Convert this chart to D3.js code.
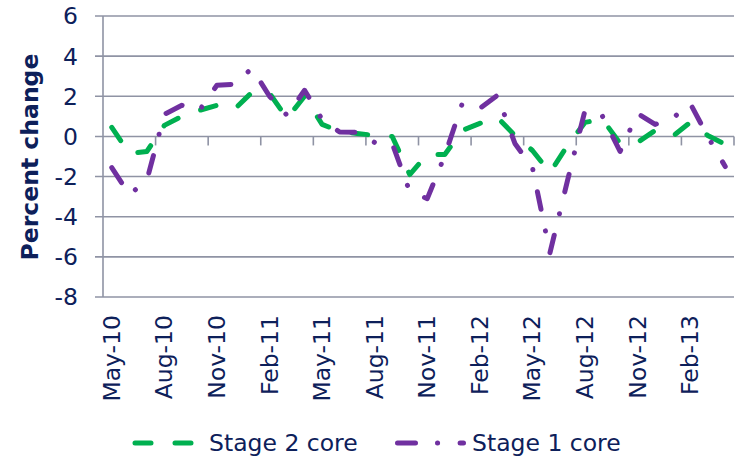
<!DOCTYPE html>
<html>
<head>
<meta charset="utf-8">
<script src="https://cdn.jsdelivr.net/npm/d3@7"></script>
<style>
  body { margin: 0; background: #fff; }
  svg text { font-family: "DejaVu Sans", Verdana, sans-serif; fill: #0d205a; }
</style>
</head>
<body>
<svg width="738" height="456"></svg>
<script>
// monthly categories
var months = ["May-10","Jun-10","Jul-10","Aug-10","Sep-10","Oct-10","Nov-10","Dec-10",
  "Jan-11","Feb-11","Mar-11","Apr-11","May-11","Jun-11","Jul-11","Aug-11","Sep-11","Oct-11",
  "Nov-11","Dec-11","Jan-12","Feb-12","Mar-12","Apr-12","May-12","Jun-12","Jul-12","Aug-12",
  "Sep-12","Oct-12","Nov-12","Dec-12","Jan-13","Feb-13","Mar-13","Apr-13"];

var stage2 = [0.45,-0.85,-0.75,0.55,1.0,1.3,1.55,1.35,2.2,2.15,0.9,2.0,
  0.6,0.25,0.15,0.05,0.0,-1.9,-0.9,-0.9,0.3,0.65,0.95,0.05,
  -0.7,-1.8,-0.45,0.7,0.85,-0.35,-0.3,0.3,0.0,0.7,0.05,-0.4];

var stage1 = [-1.55,-2.9,-2.2,1.1,1.55,1.3,2.55,2.6,3.4,2.0,1.05,2.3,
  0.85,0.22,0.2,-0.3,-0.35,-2.75,-3.1,-0.95,1.65,1.4,2.05,-0.35,
  -1.55,-5.8,-2.2,1.3,1.0,-0.75,1.15,0.6,0.9,1.65,0.0,-1.5];

var yTicks = [-8,-6,-4,-2,0,2,4,6];
var labelMonths = months.filter(function(d, i) { return i % 3 === 0; });

var seriesNames = ["Stage 2 core", "Stage 1 core"];

var svg = d3.select("svg");
var gridColor = "#8f93a4";
var fontSize = "23.5px";

var x = d3.scaleBand().domain(months).range([103, 734]).padding(0);
var y = d3.scaleLinear().domain([-8, 6]).range([297, 16]);

function cx(d) { return x(d) + x.bandwidth() / 2; }

// horizontal gridlines (extend left as tick marks)
svg.append("g")
    .selectAll("line")
    .data(yTicks)
    .enter().append("line")
        .attr("x1", 95)
        .attr("x2", 734)
        .attr("y1", function(d) { return y(d); })
        .attr("y2", function(d) { return y(d); })
        .attr("stroke", gridColor)
        .attr("stroke-width", 1.6);

// value axis line
svg.append("line")
    .attr("x1", 103).attr("x2", 103)
    .attr("y1", y(6)).attr("y2", y(-8))
    .attr("stroke", gridColor)
    .attr("stroke-width", 1.6);

// y labels
svg.append("g")
    .selectAll("text")
    .data(yTicks)
    .enter().append("text")
        .attr("x", 78)
        .attr("y", function(d) { return y(d); })
        .attr("dy", "0.36em")
        .attr("text-anchor", "end")
        .style("font-size", fontSize)
        .text(function(d) { return d; });

// category axis sits at zero, tick marks every 3 months
var tickPos = months.filter(function(d, i) { return i % 3 === 0 && i > 0; })
    .map(function(d) { return x(d); });
tickPos.push(x.range()[1]);

svg.append("g")
    .selectAll("line")
    .data(tickPos)
    .enter().append("line")
        .attr("x1", function(d) { return d; })
        .attr("x2", function(d) { return d; })
        .attr("y1", y(0))
        .attr("y2", y(0) + 9)
        .attr("stroke", gridColor)
        .attr("stroke-width", 1.6);

// x labels at the bottom
svg.append("g")
    .selectAll("text")
    .data(labelMonths)
    .enter().append("text")
        .attr("transform", function(d) { return "translate(" + (cx(d) + 8) + ",315) rotate(-90)"; })
        .attr("text-anchor", "end")
        .style("font-size", fontSize)
        .text(function(d) { return d; });

// axis title
svg.append("text")
    .attr("transform", "translate(37.5,157) rotate(-90)")
    .attr("text-anchor", "middle")
    .style("font-size", fontSize)
    .style("font-weight", "bold")
    .text("Percent change");

var line = d3.line()
    .x(function(d, i) { return cx(months[i]); })
    .y(function(d) { return y(d); });

var styles = [
    { color: "#00b050", dash: "16,24" },
    { color: "#7030a0", dash: "18,22,0.1,22.5" }
];

svg.append("path")
    .datum(stage2)
    .attr("d", line)
    .attr("fill", "none")
    .attr("stroke", styles[0].color)
    .attr("stroke-width", 5)
    .attr("stroke-linecap", "round")
    .attr("stroke-linejoin", "round")
    .attr("stroke-dasharray", styles[0].dash);

svg.append("path")
    .datum(stage1)
    .attr("d", line)
    .attr("fill", "none")
    .attr("stroke", styles[1].color)
    .attr("stroke-width", 5)
    .attr("stroke-linecap", "round")
    .attr("stroke-linejoin", "round")
    .attr("stroke-dasharray", styles[1].dash);

// legend
var legendItems = [
    { x1: 135, x2: 192, tx: 209 },
    { x1: 397.5, x2: 463.5, tx: 472 }
];
var legend = svg.append("g")
    .selectAll("g")
    .data(seriesNames)
    .enter().append("g");

legend.append("line")
    .attr("x1", function(d, i) { return legendItems[i].x1; })
    .attr("x2", function(d, i) { return legendItems[i].x2; })
    .attr("y1", 443).attr("y2", 443)
    .attr("stroke", function(d, i) { return styles[i].color; })
    .attr("stroke-width", 5)
    .attr("stroke-linecap", "round")
    .attr("stroke-dasharray", function(d, i) { return styles[i].dash; });

legend.append("text")
    .attr("x", function(d, i) { return legendItems[i].tx; })
    .attr("y", 443)
    .attr("dy", "0.36em")
    .style("font-size", fontSize)
    .text(function(d) { return d; });
</script>
</body>
</html>
